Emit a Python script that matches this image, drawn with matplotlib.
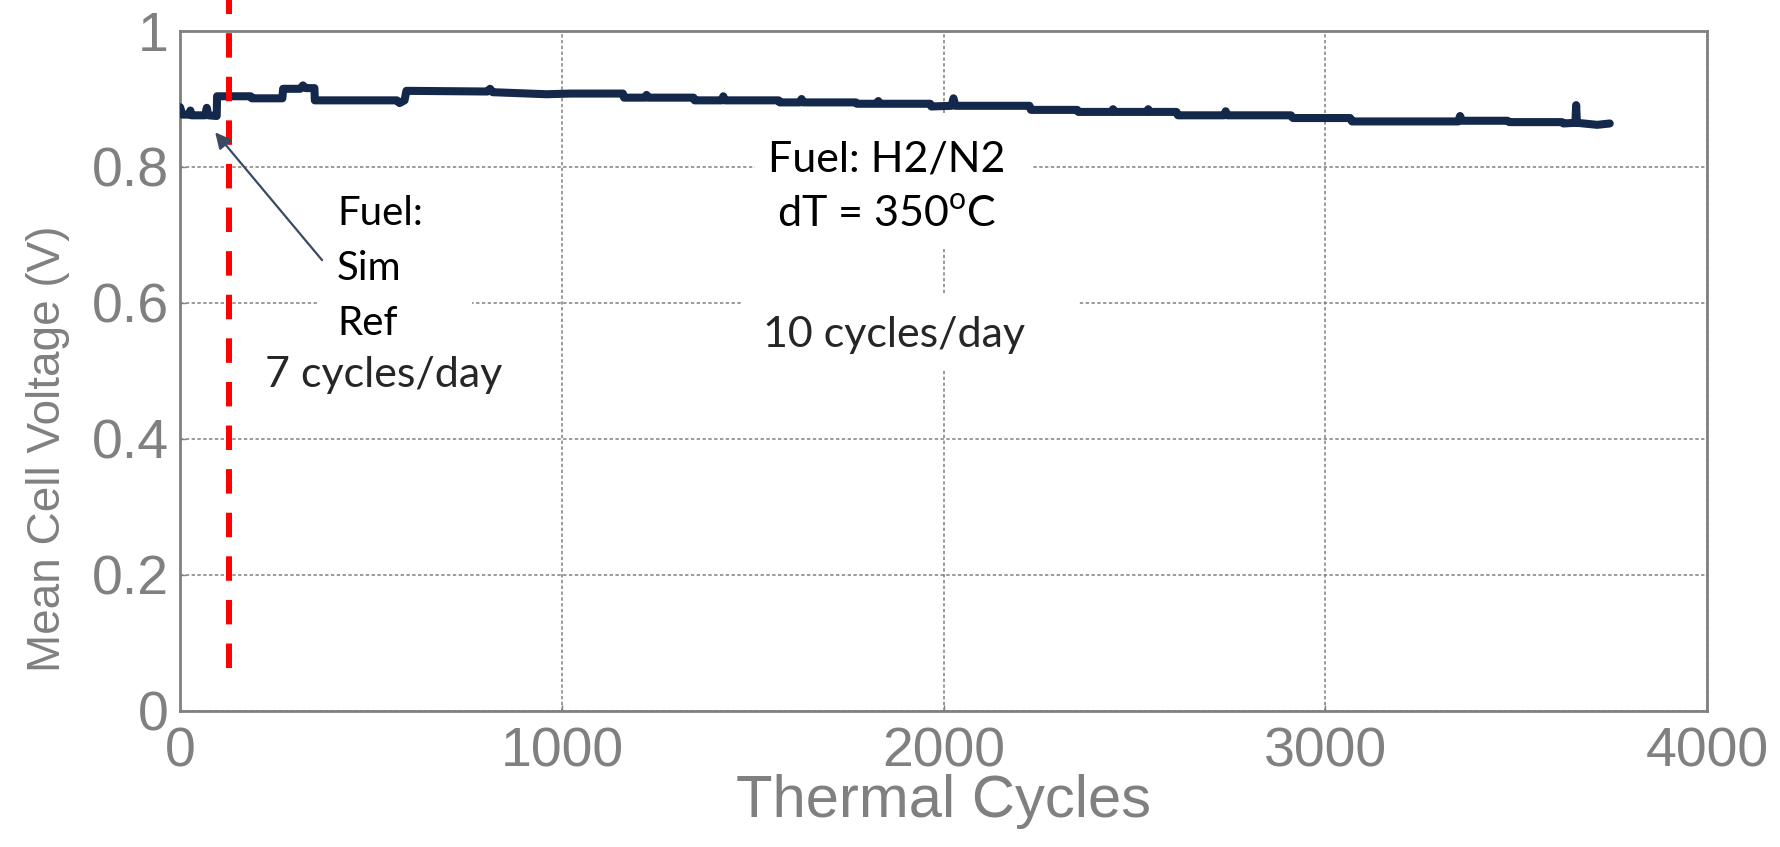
import matplotlib
matplotlib.use('Agg')
import matplotlib.pyplot as plt
import matplotlib.patches as patches

# Mean cell voltage vs thermal cycles
cycles = [0, 6, 24, 27, 30, 66, 70, 74, 96, 97, 185, 188, 268, 270, 315, 322,
          329, 352, 353, 568, 575, 588, 593, 805, 812, 819, 960, 1022, 1160,
          1163, 1218, 1222, 1226, 1345, 1348, 1419, 1423, 1427, 1568, 1571,
          1624, 1628, 1632, 1770, 1773, 1825, 1829, 1833, 1965, 1968, 2021,
          2026, 2031, 2225, 2229, 2350, 2353, 2440, 2444, 2448, 2532, 2536,
          2540, 2610, 2614, 2735, 2739, 2743, 2910, 2915, 3065, 3070, 3348,
          3353, 3358, 3477, 3482, 3620, 3624, 3655, 3657, 3659, 3712, 3745]
voltage = [0.888, 0.877, 0.877, 0.883, 0.876, 0.876, 0.887, 0.876, 0.875,
           0.904, 0.904, 0.901, 0.901, 0.915, 0.915, 0.920, 0.916, 0.916,
           0.898, 0.898, 0.894, 0.898, 0.912, 0.911, 0.915, 0.910, 0.907,
           0.908, 0.908, 0.902, 0.902, 0.906, 0.902, 0.902, 0.898, 0.898,
           0.904, 0.898, 0.898, 0.895, 0.895, 0.900, 0.895, 0.895, 0.893,
           0.893, 0.897, 0.893, 0.893, 0.889, 0.890, 0.901, 0.890, 0.890,
           0.884, 0.884, 0.881, 0.881, 0.885, 0.881, 0.881, 0.885, 0.881,
           0.881, 0.876, 0.876, 0.882, 0.876, 0.876, 0.872, 0.872, 0.867,
           0.867, 0.875, 0.868, 0.868, 0.866, 0.866, 0.864, 0.865, 0.891,
           0.865, 0.862, 0.864]

fuel_switch_cycle = 128          # end of simulated reformate period
switch_line_y = (0.063, 1.05)

x_ticks = [0, 1000, 2000, 3000, 4000]
y_ticks = [0, 0.2, 0.4, 0.6, 0.8, 1.0]
y_tick_labels = ['0', '0.2', '0.4', '0.6', '0.8', '1']

GREY = '#808080'
NAVY = '#13284B'
NOTE_FONT = 'Lato'

plt.rcParams['mathtext.fontset'] = 'custom'
plt.rcParams['mathtext.rm'] = NOTE_FONT

fig = plt.figure(figsize=(17.81, 8.47), dpi=100)
ax = fig.add_axes([0.1011, 0.1606, 0.8574, 0.8028])

ax.plot(cycles, voltage, color=NAVY, lw=5.8, solid_capstyle='round',
        solid_joinstyle='round', zorder=3)

# red dashed separator, runs above the axes top
ax.plot([fuel_switch_cycle, fuel_switch_cycle], switch_line_y, color='#FF0000',
        lw=4.3, dashes=(4.1, 3.2), clip_on=False, zorder=3)

ax.set_xlim(0, 4000)
ax.set_ylim(0, 1)
ax.set_xticks(x_ticks)
ax.set_yticks(y_ticks)
ax.set_yticklabels(y_tick_labels)

ax.set_axisbelow(True)
ax.grid(True, color=GREY, lw=1.1, linestyle=(0, (2.2, 1.6)))

for side in ax.spines.values():
    side.set_color(GREY)
    side.set_linewidth(2)

ax.tick_params(direction='in', length=4, width=1, color=GREY,
               labelcolor=GREY, labelsize=40)
ax.tick_params(axis='x', pad=11)
ax.tick_params(axis='y', pad=8)
for lab in ax.get_xticklabels() + ax.get_yticklabels():
    lab.set_fontfamily('Liberation Sans')

ax.set_xlabel('Thermal Cycles', fontsize=43, color=GREY,
              fontfamily='Liberation Sans', labelpad=-3)
ax.set_ylabel('Mean Cell Voltage (V)', fontsize=33, color=GREY,
              fontfamily='Liberation Sans')
ax.yaxis.set_label_coords(-0.072, 0.385)

# white boxes behind the notes (hide the grid there)
masks = [(359, 0.457, 406, 0.331),
         (1506, 0.681, 728, 0.195),
         (1475, 0.501, 877, 0.114)]
for x0, y0, w, h in masks:
    ax.add_patch(patches.Rectangle((x0, y0), w, h, facecolor='white',
                                   edgecolor='none', zorder=1))

note_kw = dict(fontfamily=NOTE_FONT, va='baseline', zorder=4)

left_lines = ['Fuel:', 'Sim', 'Ref']
left_base = [0.715, 0.634, 0.553]
for txt, yb in zip(left_lines, left_base):
    ax.text(411, yb, txt, ha='left', color='black', fontsize=29, **note_kw)
ax.text(532, 0.476, '7 cycles/day', ha='center', color='#262626',
        fontsize=31, **note_kw)

mid_lines = ['Fuel: H2/N2', 'dT = 350$^{\\rm o}$C']
mid_base = [0.793, 0.712]
for txt, yb in zip(mid_lines, mid_base):
    ax.text(1852, yb, txt, ha='center', color='black', fontsize=31, **note_kw)
ax.text(1870, 0.536, '10 cycles/day', ha='center', color='#262626',
        fontsize=31, **note_kw)

ax.annotate('', xy=(92, 0.851), xytext=(372, 0.663),
            arrowprops=dict(arrowstyle='-|>', color='#3B4A63', lw=1.6,
                            mutation_scale=24, shrinkA=0, shrinkB=0),
            zorder=4)

fig.savefig('out.png', dpi=100, facecolor='white')
